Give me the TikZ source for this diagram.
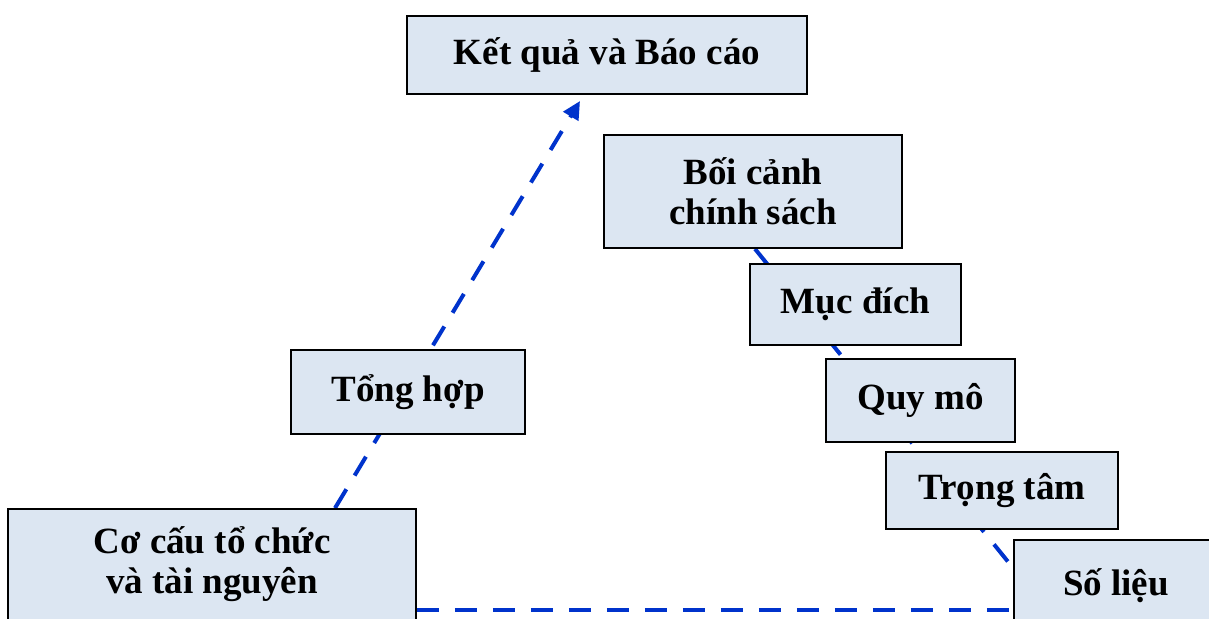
\documentclass[tikz,border=0pt]{standalone}
\usepackage{fontspec}
\setmainfont{Liberation Serif}
\usetikzlibrary{arrows.meta,backgrounds}
\definecolor{boxfill}{RGB}{220,230,242}
\definecolor{flowblue}{RGB}{0,51,204}
\tikzset{
  box/.style={draw=black, line width=1.8pt, fill=boxfill, align=center,
    font=\bfseries\fontsize{37}{40}\selectfont, inner sep=0pt},
  flow/.style={draw=flowblue, line width=4pt, dash pattern=on 22pt off 16pt}
}
\begin{document}
\begin{tikzpicture}[x=1pt,y=-1pt]
\useasboundingbox (0,0) rectangle (1209,618);
\clip (0,0) rectangle (1209,618);
\node[box, minimum width=400pt, minimum height=78pt] (res) at (607,55) {Kết quả và Báo cáo};
\node[box, minimum width=298pt, minimum height=113pt] (ctx) at (753,191.5) {Bối cảnh\\chính sách};
\node[box, minimum width=211pt, minimum height=81pt] (goal) at (855.5,304.5) {Mục đích};
\node[box, minimum width=189pt, minimum height=83pt] (scope) at (920.5,400.5) {Quy mô};
\node[box, minimum width=232pt, minimum height=77pt] (focus) at (1002,490.5) {Trọng tâm};
\node[box, minimum width=204pt, minimum height=92pt] (data) at (1116,586) {Số liệu};
\node[box, minimum width=234pt, minimum height=84pt] (syn) at (408,392) {Tổng hợp};
\node[box, minimum width=408pt, minimum height=111pt] (org) at (212,564.5) {Cơ cấu tổ chức\\và tài nguyên};
\coordinate (tipA) at (580,101);
\begin{pgfonlayer}{background}
\draw[flow, -{Triangle[length=18pt,width=17pt]}] ([xshift=123pt]org.north) -- (tipA);
\draw[flow] ([xshift=2pt]ctx.south) -- ([yshift=18pt]data.west);
\draw[flow] ([yshift=-45.5pt]org.east) -- ([yshift=-24pt]data.west);
\end{pgfonlayer}
\end{tikzpicture}
\end{document}
